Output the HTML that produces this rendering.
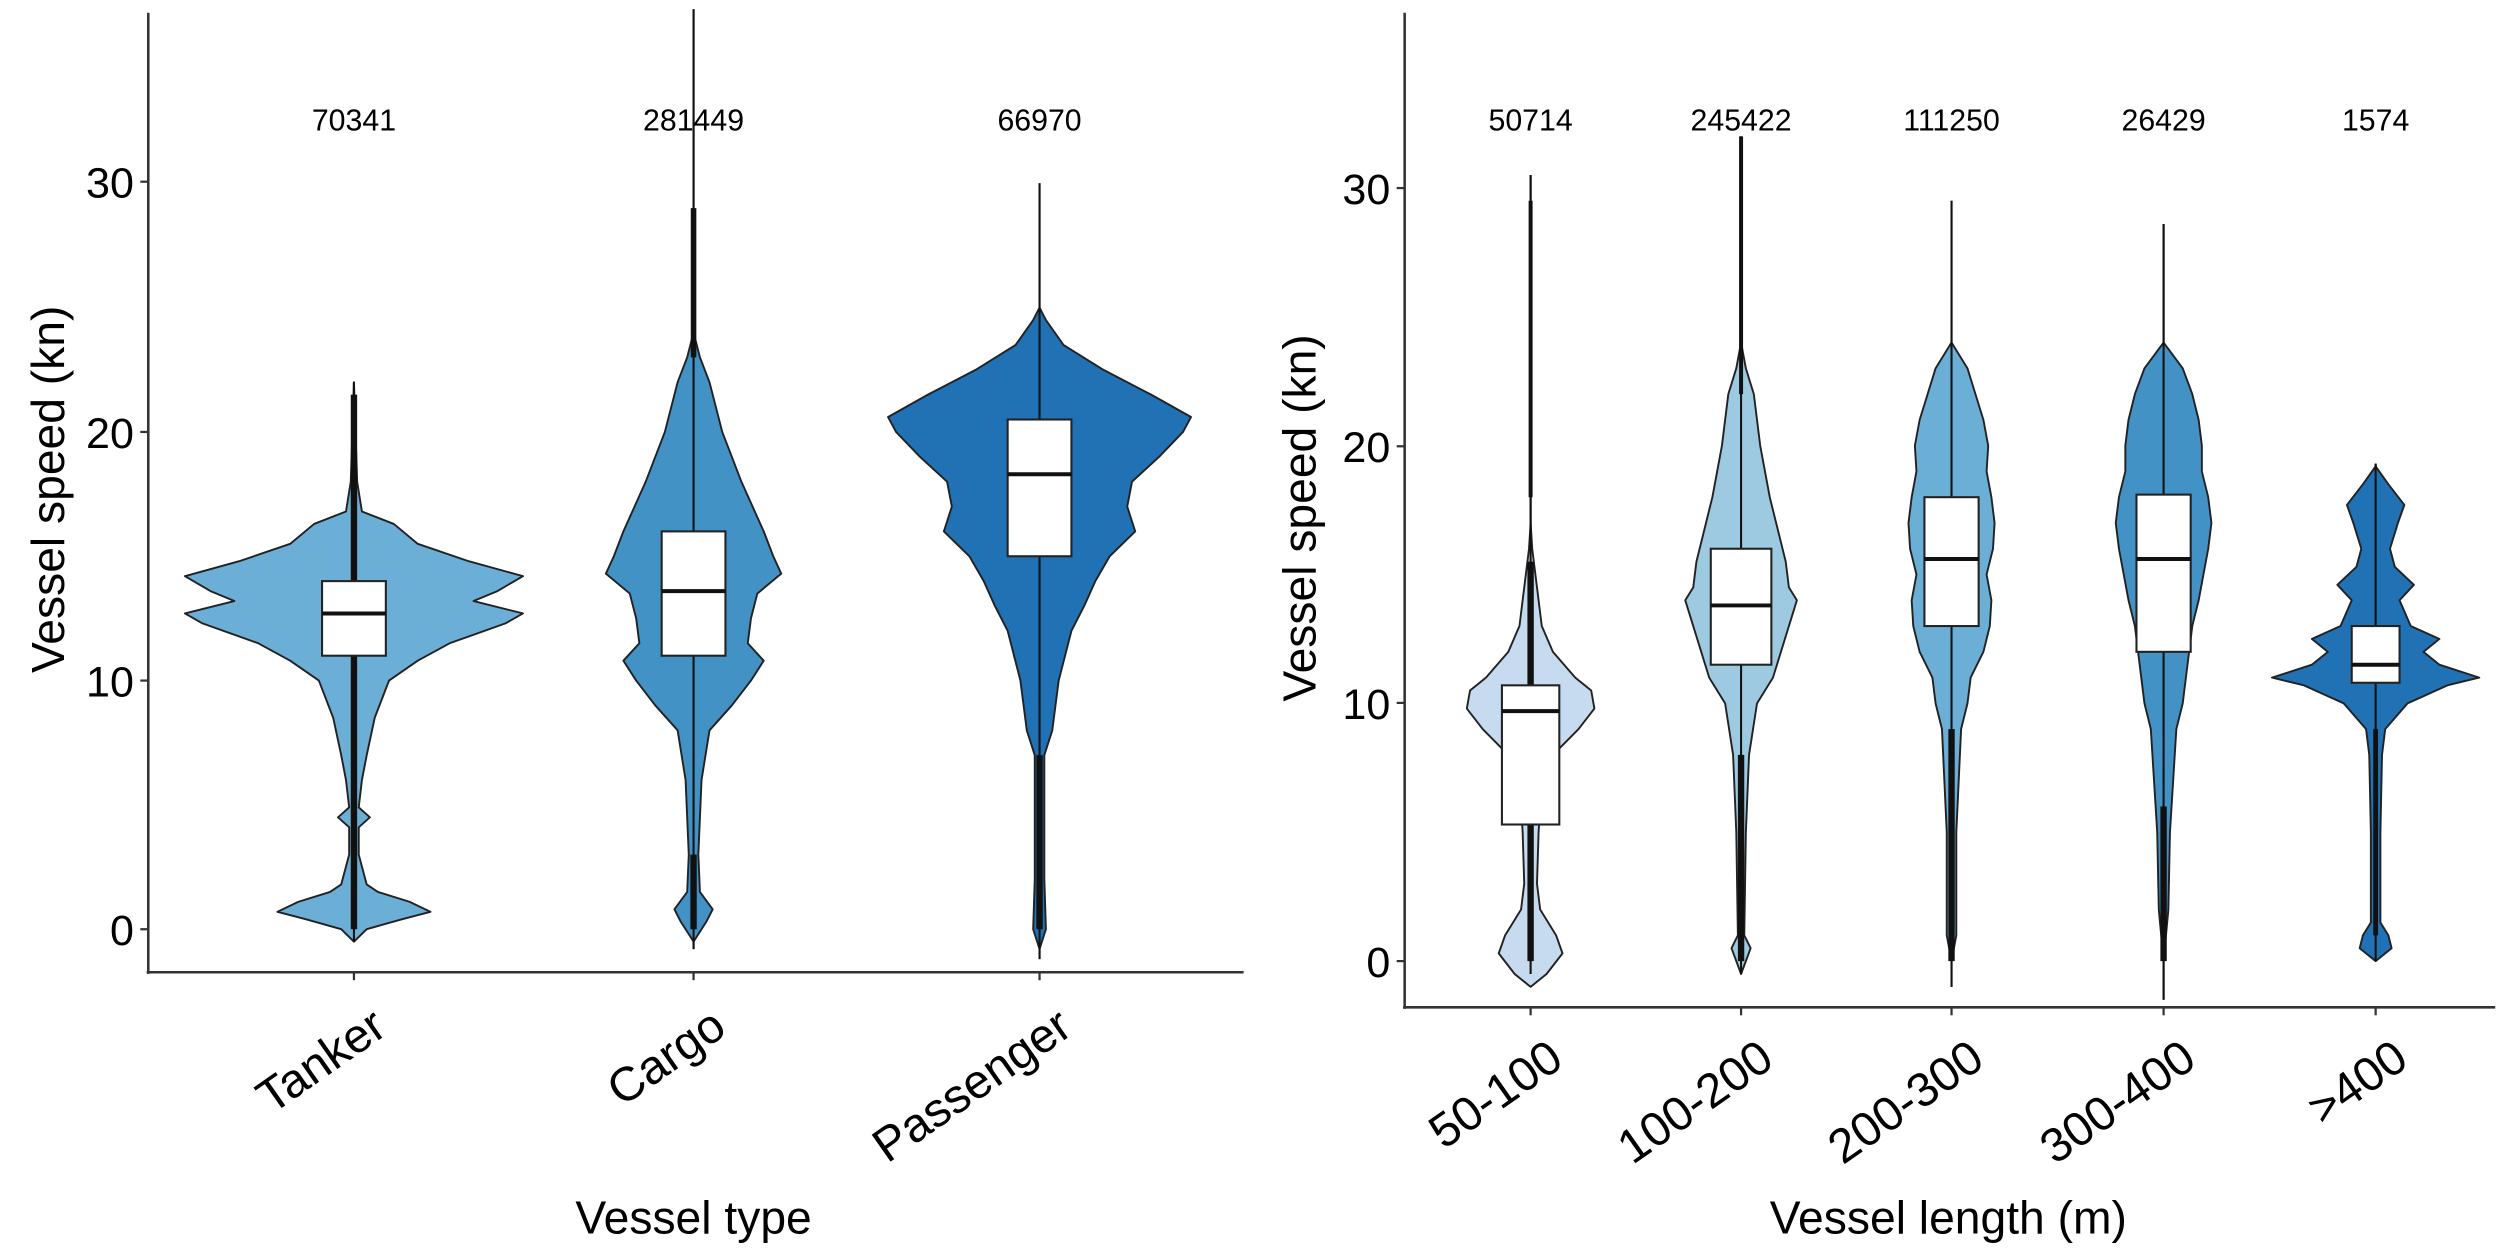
<!DOCTYPE html>
<html><head><meta charset="utf-8"><style>
html,body{margin:0;padding:0;background:#fff;}
svg{display:block;}
text{font-family:"Liberation Sans",Arial,sans-serif;fill:#000;}
</style></head><body>
<svg id="s" width="2500" height="1248" viewBox="0 0 1568 783" preserveAspectRatio="none" xmlns="http://www.w3.org/2000/svg">
<rect width="1568" height="783" fill="#fff"/>
<g id="g"></g>
<!-- Left axes -->
<line x1="93" y1="8" x2="93" y2="611" stroke="#333" stroke-width="1.6"/>
<line x1="92" y1="610" x2="780" y2="610" stroke="#333" stroke-width="1.6"/>
<g font-size="27" text-anchor="end">
<text x="84" y="593">0</text><text x="84" y="437">10</text><text x="84" y="281">20</text><text x="84" y="124">30</text>
</g>
<g stroke="#333" stroke-width="1.4"><line x1="88" y1="583" x2="93" y2="583"/><line x1="88" y1="427" x2="93" y2="427"/><line x1="88" y1="271" x2="93" y2="271"/><line x1="88" y1="114" x2="93" y2="114"/>
<line x1="222" y1="610" x2="222" y2="615"/><line x1="435" y1="610" x2="435" y2="615"/><line x1="652" y1="610" x2="652" y2="615"/></g>
<g font-size="19" text-anchor="middle"><text x="222" y="82">70341</text><text x="435" y="82">281449</text><text x="652" y="82">66970</text></g>
<g font-size="30" text-anchor="end">
<text transform="translate(244,648) rotate(-35)">Tanker</text>
<text transform="translate(457,648) rotate(-35)">Cargo</text>
<text transform="translate(674,648) rotate(-35)">Passenger</text>
</g>
<text x="435" y="774" font-size="29" text-anchor="middle">Vessel type</text>
<text transform="translate(40,307) rotate(-90)" font-size="29" text-anchor="middle">Vessel speed (kn)</text>
<!-- Right axes -->
<line x1="881" y1="8" x2="881" y2="633" stroke="#333" stroke-width="1.6"/>
<line x1="880" y1="632" x2="1565" y2="632" stroke="#333" stroke-width="1.6"/>
<g font-size="27" text-anchor="end">
<text x="872" y="613">0</text><text x="872" y="451">10</text><text x="872" y="290">20</text><text x="872" y="128">30</text>
</g>
<g stroke="#333" stroke-width="1.4"><line x1="876" y1="603" x2="881" y2="603"/><line x1="876" y1="441" x2="881" y2="441"/><line x1="876" y1="280" x2="881" y2="280"/><line x1="876" y1="118" x2="881" y2="118"/>
<line x1="960" y1="632" x2="960" y2="637"/><line x1="1092" y1="632" x2="1092" y2="637"/><line x1="1224" y1="632" x2="1224" y2="637"/><line x1="1357" y1="632" x2="1357" y2="637"/><line x1="1490" y1="632" x2="1490" y2="637"/></g>
<g font-size="19" text-anchor="middle"><text x="960" y="82">50714</text><text x="1092" y="82">245422</text><text x="1224" y="82">111250</text><text x="1357" y="82">26429</text><text x="1490" y="82">1574</text></g>
<g font-size="30" text-anchor="end">
<text transform="translate(982,668) rotate(-35)">50-100</text>
<text transform="translate(1114,668) rotate(-35)">100-200</text>
<text transform="translate(1246,668) rotate(-35)">200-300</text>
<text transform="translate(1379,668) rotate(-35)">300-400</text>
<text transform="translate(1512,668) rotate(-35)">&gt;400</text>
</g>
<text x="1222" y="774" font-size="29" text-anchor="middle">Vessel length (m)</text>
<text transform="translate(825,325) rotate(-90)" font-size="29" text-anchor="middle">Vessel speed (kn)</text>
</svg>
<script>
var g=document.getElementById('g'),NS='http://www.w3.org/2000/svg';
function el(t,a){var e=document.createElementNS(NS,t);for(var k in a)e.setAttribute(k,a[k]);g.appendChild(e);return e;}
function violin(cx,y0,k,prof,col,box,wh,out){
 var Y=function(v){return y0-k*v;};
 el('line',{x1:cx,y1:Y(wh[0]),x2:cx,y2:Y(wh[1]),stroke:'#111','stroke-width':1.3});
 var d='';prof.forEach(function(p,i){d+=(i?'L':'M')+(cx+p[1])+','+Y(p[0]);});
 for(var i=prof.length-1;i>=0;i--)d+='L'+(cx-prof[i][1])+','+Y(prof[i][0]);
 el('path',{d:d+'Z',fill:col,stroke:'#222','stroke-width':1.2,'stroke-linejoin':'round'});
 if(out){out.forEach(function(o){el('line',{x1:cx,y1:Y(o[0]),x2:cx,y2:Y(o[1]),stroke:'#111','stroke-width':o[2]});});}
 el('line',{x1:cx,y1:Y(wh[0]),x2:cx,y2:Y(wh[1]),stroke:'#111','stroke-width':1.3});
 el('rect',{x:cx-box[3],y:Y(box[2]),width:2*box[3],height:Y(box[0])-Y(box[2]),fill:'#fff',stroke:'#222','stroke-width':1.3});
 el('line',{x1:cx-box[3],y1:Y(box[1]),x2:cx+box[3],y2:Y(box[1]),stroke:'#111','stroke-width':2.5});
}
var L=[583,15.6],R=[603,16.17];
violin(222,L[0],L[1],[[-0.5,0],[0,8],[0.4,30],[0.7,48],[1.1,35],[1.5,15],[1.8,8],[3,3],[4.1,3],[4.5,10],[4.9,3],[6,5],[7,8],[8.5,13],[10,22],[10.8,40],[11.5,60],[12.3,95],[12.7,106],[13.2,75],[13.6,90],[14.2,106],[14.8,72],[15.5,40],[16.3,25],[16.8,5],[18,2],[22,0]],'#6baed6',[11,12.7,14,20],[-0.5,22],[[0,6,4],[6,21.5,4]]);
violin(435,L[0],L[1],[[-0.5,0],[0.3,8],[0.8,12],[1.5,4],[3,3],[6,5],[8,10],[9,24],[10,36],[10.8,44],[11.5,34],[12.5,36],[13.5,40],[14.3,55],[15,50],[16,44],[18,30],[20,18],[22,10],[23,4],[24,0]],'#4292c6',[11,13.6,16,20],[-0.8,37],[[0,3,4],[23,29,3.5]]);
violin(652,L[0],L[1],[[-0.8,0],[0,4],[2,3],[7,3],[8,8],[10,12],[12,20],[13,28],[14,35],[15,44],[16,60],[17,55],[18,58],[19,75],[20,90],[20.6,95],[21.5,70],[22.5,40],[23.5,15],[24.5,4],[25,0]],'#2171b5',[15,18.3,20.5,20],[-1.2,30],[[0,7,4]]);
violin(960,R[0],R[1],[[-1,0],[-0.5,10],[0.3,20],[1,16],[2,6],[3,4],[5,5],[6,6],[7,8],[8,14],[9,30],[9.8,40],[10.5,38],[11,28],[12,14],[13,7],[14,5],[15,3],[16,1],[17,0]],'#c6dbef',[5.3,9.7,10.7,18],[-0.5,30.5],[[0,15.5,4],[18,29.5,2.5]]);
violin(1092,R[0],R[1],[[-0.5,0],[0.5,6],[1,2],[5,3],[8,5],[10,10],[11,20],[12,25],[13,30],[14,35],[14.5,30],[15.5,28],[17,22],[18,18],[20,12],[22,8],[23,3],[24,0]],'#9ecae1',[11.5,13.8,16,19],[-0.5,32],[[0,8,4],[22,32,2.5]]);
violin(1224,R[0],R[1],[[0,0],[1,3],[5,3],[9,6],[10,10],[11,12],[12,20],[13,24],[14,25],[15,22],[16,26],[17,27],[18,25],[19,22],[20,23],[21,20],[22,15],[23,10],[24,0]],'#6baed6',[13,15.6,18,17],[-1,29.5],[[0,9,4]]);
violin(1357,R[0],R[1],[[0,0],[2,3],[5,4],[7,6],[9,8],[10,12],[11,14],[12,16],[13,18],[14,22],[15,25],[16,28],[17,30],[18,28],[19,24],[20,24],[21,22],[22,18],[23,12],[24,0]],'#4292c6',[12,15.6,18.1,17],[-1.5,28.6],[[0,6,4]]);
violin(1490,R[0],R[1],[[0,0],[0.5,10],[1,8],[1.5,3],[5,3],[8,4],[9,6],[10,20],[10.7,45],[11,65],[11.5,40],[12,30],[12.5,40],[13,22],[14,15],[14.6,24],[15.3,12],[16,9],[17,14],[17.7,18],[18.5,8],[19.2,0]],'#2171b5',[10.8,11.5,13,15],[0,19.3],[[1,9,3]]);
</script>
</body></html>
